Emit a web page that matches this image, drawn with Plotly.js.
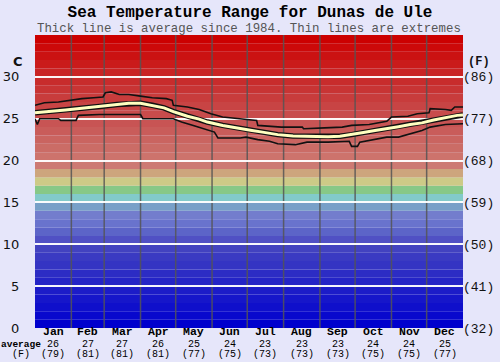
<!DOCTYPE html>
<html><head><meta charset="utf-8">
<script src="https://cdn.plot.ly/plotly-3.0.1.min.js"></script>
<style>html,body{margin:0;padding:0;background:#e6e6fa;}#chart{width:500px;height:362px;}</style>
</head><body><div id="chart"></div>
<script>
const months = ['Jan','Feb','Mar','Apr','May','Jun','Jul','Aug','Sep','Oct','Nov','Dec'];
const avgC = ['26','27','27','26','25','24','23','23','23','24','24','25'];
const avgF = ['(79)','(81)','(81)','(81)','(77)','(75)','(73)','(73)','(73)','(75)','(75)','(77)'];
const monthStarts = [0,31,59,90,120,151,181,212,243,273,304,334,365];

const maxDay  = [0,8,20,30,40,50,58,60,65,72,80,90,100,112,117,118,130,140,150,160,175,189,190,210,228,229,247,262,270,285,300,304,318,326,336,337,350,355,358,365];
const maxTemp = [26.6,26.9,27.0,27.2,27.4,27.5,27.6,28.1,28.2,27.9,27.9,27.7,27.5,27.4,27.2,26.6,26.4,26.1,25.6,25.2,25.0,24.8,24.2,24.0,24.0,23.8,23.9,24.0,24.2,24.3,24.7,25.2,25.3,25.6,25.7,26.2,26.1,26.0,26.4,26.4];

const minDay  = [0,2,4,20,22,35,37,55,90,92,118,125,135,145,153,156,175,180,190,200,207,222,232,250,268,270,275,277,290,300,310,315,322,330,337,350,365];
const minTemp = [25.0,24.3,25.0,25.0,24.8,24.8,25.4,25.5,25.5,25.0,25.0,24.6,24.2,23.8,23.4,22.7,22.7,22.8,22.5,22.3,22.0,21.9,22.2,22.2,22.3,21.7,21.7,22.2,22.5,22.8,22.8,23.0,23.2,23.6,24.0,24.3,24.4];

const avgDay  = [0,13,26,40,55,70,80,90,100,110,118,130,140,147,160,175,185,194,207,220,230,240,250,260,270,280,290,300,310,320,330,340,350,360,365];
const avgTemp = [25.7,25.85,26.05,26.25,26.45,26.7,26.85,26.85,26.6,26.3,25.85,25.3,24.95,24.6,24.2,23.8,23.6,23.4,23.1,22.95,22.9,22.85,22.85,22.9,23.1,23.35,23.6,23.8,24.05,24.3,24.5,24.85,25.15,25.4,25.45];

const yTicks = [0,5,10,15,20,25,30];
const fTickLabels = ['(32)','(41)','(50)','(59)','(68)','(77)','(86)'];

const bandColors = [
 'rgb(0,0,205)','rgb(8,8,205)','rgb(15,15,203)','rgb(22,22,202)','rgb(28,28,200)',
 'rgb(36,36,198)','rgb(44,44,196)','rgb(52,52,195)','rgb(58,58,194)','rgb(66,66,192)',
 'rgb(80,80,196)','rgb(92,100,200)','rgb(105,115,205)','rgb(115,125,205)','rgb(120,160,200)',
 'rgb(130,202,202)','rgb(135,200,135)','rgb(205,202,135)','rgb(205,165,125)','rgb(205,122,115)',
 'rgb(205,115,108)','rgb(203,108,102)','rgb(202,100,96)','rgb(201,92,90)','rgb(200,84,84)',
 'rgb(200,76,76)','rgb(200,68,68)','rgb(200,60,60)','rgb(200,52,52)','rgb(200,44,44)',
 'rgb(201,36,36)','rgb(202,27,27)','rgb(203,18,18)','rgb(204,9,9)','rgb(204,0,0)'
];

const shapes = [];
bandColors.forEach((c,i)=>shapes.push({type:'rect',xref:'paper',x0:0,x1:1,yref:'y',y0:i,y1:i+1,fillcolor:c,line:{width:0},layer:'below'}));
monthStarts.slice(1,12).forEach(d=>shapes.push({type:'line',xref:'x',x0:d,x1:d,yref:'paper',y0:0,y1:1,line:{color:'rgba(85,85,85,0.85)',width:1.5},layer:'below'}));

const mono = 'Liberation Mono, Courier New, monospace';
const annotations = [];
months.forEach((m,i)=>{
  const c = (monthStarts[i]+monthStarts[i+1])/2;
  annotations.push({x:c,xref:'x',y:0,yref:'paper',yanchor:'middle',yshift:-3,text:'<b>'+m+'</b>',
    showarrow:false,borderpad:0,font:{family:mono,size:11.5,color:'#000'}});
  annotations.push({x:c,xref:'x',y:0,yref:'paper',yanchor:'top',yshift:-10,
    text:'<span style="font-size:10px">'+avgC[i]+'</span><br><span style="font-size:10px">'+avgF[i]+'</span>',
    showarrow:false,borderpad:0,font:{family:mono,size:7.4,color:'#000'}});
});
annotations.push({x:0,xref:'paper',xanchor:'center',xshift:-14.5,y:0,yref:'paper',yanchor:'top',yshift:-10,
  text:'<span style="font-size:9.5px;font-weight:bold">average</span><br><span style="font-size:10px">(F)</span>',showarrow:false,borderpad:0,font:{family:mono,size:7.4,color:'#000'}});
annotations.push({x:0,xref:'paper',xanchor:'center',xshift:-17,y:31.8,yref:'y',yanchor:'middle',text:'<b>C</b>',showarrow:false,font:{family:'DejaVu Sans',size:13,color:'#111'}});
annotations.push({x:1,xref:'paper',xanchor:'center',xshift:16,y:31.8,yref:'y',yanchor:'middle',text:'<b>(F)</b>',showarrow:false,font:{family:mono,size:12,color:'#111'}});
annotations.push({x:0.5,xref:'paper',y:1,yref:'paper',yanchor:'middle',yshift:6.5,text:'Thick line is average since 1984. Thin lines are extremes',showarrow:false,borderpad:0,font:{family:mono,size:12.4,color:'#555'}});

const traces = [
  {x:maxDay,y:maxTemp,type:'scatter',mode:'lines',line:{color:'#111',width:1.6},hoverinfo:'skip'},
  {x:minDay,y:minTemp,type:'scatter',mode:'lines',line:{color:'#111',width:1.6},hoverinfo:'skip'},
  {x:avgDay,y:avgTemp,type:'scatter',mode:'lines',line:{color:'#111',width:5.5},hoverinfo:'skip'},
  {x:avgDay,y:avgTemp,type:'scatter',mode:'lines',line:{color:'#ffffc0',width:3},hoverinfo:'skip'},
  {x:[0],y:[0],yaxis:'y2',type:'scatter',mode:'markers',marker:{opacity:0},hoverinfo:'skip'}
];

const layout = {
  width:500,height:362,
  margin:{l:35,r:37,t:35,b:34},
  paper_bgcolor:'#e6e6fa',plot_bgcolor:'rgba(0,0,0,0)',
  showlegend:false,
  title:{text:'<b>Sea Temperature Range for Dunas de Ule</b>',font:{family:mono,size:16,color:'#000'},x:0.5,xref:'container',y:1-11.5/362,yref:'container',yanchor:'middle',pad:{t:0,b:0}},
  xaxis:{range:[0,365],showgrid:false,zeroline:false,showticklabels:false,ticks:'',fixedrange:true},
  yaxis:{range:[0,35],tickvals:yTicks,ticktext:yTicks.map(String),showgrid:true,gridcolor:'rgba(255,255,255,0.95)',gridwidth:2,zeroline:false,
         ticks:'outside',ticklen:12,tickcolor:'rgba(0,0,0,0)',tickfont:{family:'DejaVu Sans',size:13,color:'#111'},fixedrange:true},
  yaxis2:{range:[0,35],overlaying:'y',side:'right',tickvals:yTicks,ticktext:fTickLabels,showgrid:false,zeroline:false,
          ticks:'',ticklabelstandoff:-1,tickfont:{family:mono,size:13,color:'#111'},fixedrange:true},
  shapes:shapes,
  annotations:annotations
};
Plotly.newPlot('chart',traces,layout,{staticPlot:true,displayModeBar:false});
</script></body></html>
